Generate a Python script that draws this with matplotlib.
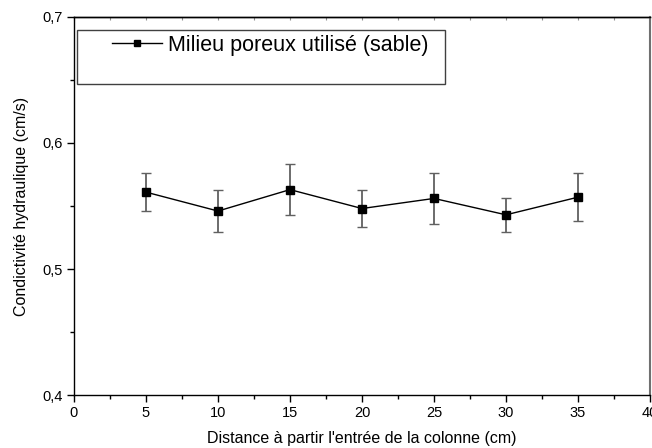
import matplotlib
matplotlib.use("Agg")
import matplotlib.pyplot as plt
from matplotlib.patches import Rectangle
from matplotlib.ticker import MultipleLocator, FuncFormatter, NullFormatter

distance = [5, 10, 15, 20, 25, 30, 35]
conductivite = [0.561, 0.546, 0.563, 0.548, 0.556, 0.543, 0.557]
erreur = [0.015, 0.017, 0.020, 0.015, 0.020, 0.0135, 0.019]

plt.rcParams['font.family'] = ['Liberation Sans', 'DejaVu Sans']

fig = plt.figure(figsize=(6.52, 4.48), dpi=100)
ax = fig.add_axes([74 / 652, 1 - 395 / 448, 576 / 652, 378 / 448])

ax.errorbar(distance, conductivite, yerr=erreur, fmt='none', ecolor='#606060',
            elinewidth=1.3, capsize=3.5, capthick=1.0, zorder=2)
ax.plot(distance, conductivite, color='black', lw=1.0, marker='s', ms=6,
        mfc='black', mec='black', label='Milieu poreux utilisé (sable)', zorder=3)

ax.set_xlim(0, 40)
ax.set_ylim(0.4, 0.7)
ax.xaxis.set_major_locator(MultipleLocator(5))
ax.xaxis.set_minor_locator(MultipleLocator(2.5))
ax.yaxis.set_major_locator(MultipleLocator(0.1))
ax.yaxis.set_minor_locator(MultipleLocator(0.05))
ax.xaxis.set_major_formatter(FuncFormatter(lambda v, p: f"{v:g}"))
ax.yaxis.set_major_formatter(FuncFormatter(lambda v, p: f"{v:.1f}".replace('.', ',')))

ax.tick_params(which='major', direction='out', length=5, width=1, labelsize=10.5, pad=3)
ax.tick_params(which='minor', direction='out', length=3, width=1)

# petites graduations vers l'intérieur sur le bord supérieur
top = ax.secondary_xaxis('top')
top.xaxis.set_major_locator(MultipleLocator(5))
top.xaxis.set_minor_locator(MultipleLocator(2.5))
top.xaxis.set_major_formatter(NullFormatter())
top.tick_params(which='both', direction='in', length=2, width=0.8, colors='#909090')
top.spines['top'].set_linewidth(1.0)

for s in ['left', 'bottom', 'top']:
    ax.spines[s].set_linewidth(1.0)
ax.spines['right'].set_linewidth(1.5)
ax.spines['right'].set_color('#707070')

ax.set_xlabel("Distance à partir l'entrée de la colonne (cm)", fontsize=11.5, labelpad=8)
ax.set_ylabel("Condictivité hydraulique (cm/s)", fontsize=11.5, labelpad=10)

ax.add_patch(Rectangle((0.005, 0.823), 0.639, 0.143, transform=ax.transAxes,
                       fill=False, ec='#404040', lw=1.0, zorder=4))
ax.legend(loc='upper left', bbox_to_anchor=(112 / 652, 1 - 35 / 448),
          bbox_transform=fig.transFigure, frameon=False, fontsize=15.5,
          handlelength=2.3, handletextpad=0.3, borderaxespad=0, borderpad=0,
          markerscale=0.7)

fig.savefig('out.png', dpi=100)
